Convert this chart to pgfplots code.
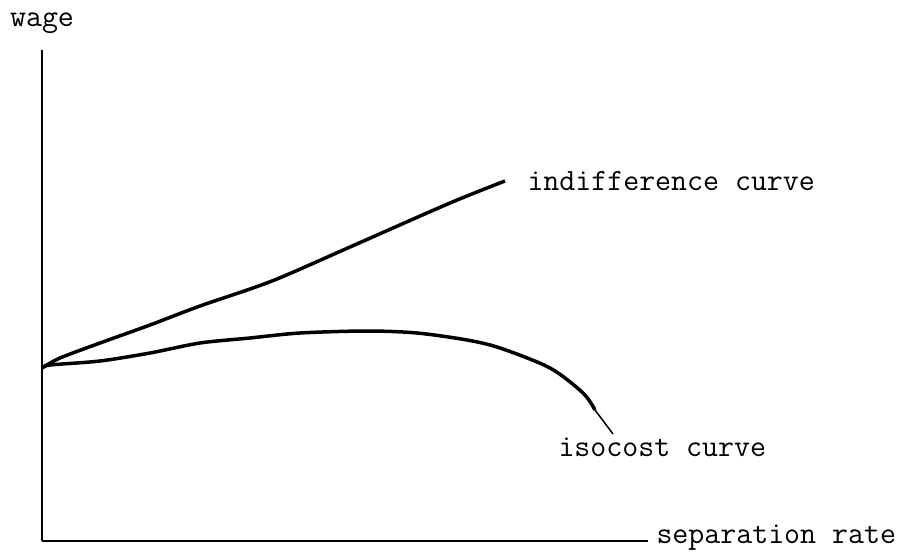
\documentclass[border=0pt]{standalone}
\usepackage{pgfplots}
\pgfplotsset{compat=1.18}
\newcommand{\tw}{\fontsize{12.4}{14}\selectfont\ttfamily}
\begin{document}
\begin{tikzpicture}
\begin{axis}[
  scale only axis,
  width=242.4pt, height=196.4pt,
  xmin=0, xmax=606, ymin=0, ymax=491,
  axis lines=left,
  axis line style={-, line width=0.8pt, black},
  xtick=\empty, ytick=\empty,
  clip=false,
]
\path (axis cs:-42,-15) rectangle (axis cs:858,541);
% indifference curve
\addplot[black, line width=1.4pt, smooth, tension=0.5] coordinates {
(0,173) (18,183) (58,198) (108,216) (158,235) (230,260) (308,294) (408,338) (463,360)
};
% isocost curve
\addplot[black, line width=1.4pt, smooth, tension=0.5] coordinates {
(0,173) (8,176) (58,180) (108,188) (158,198) (208,203) (258,208) (325,210) (375,208) (425,201) (458,193) (508,173) (541,148) (553,131)
};
% leader line
\addplot[black, line width=0.6pt, smooth] coordinates {
(553,131) (562,119) (571,107)
};
\node[font=\tw, anchor=base] at (axis cs:0,514) {wage};
\node[font=\tw, anchor=base west, inner sep=0pt] at (axis cs:485,350) {indifference curve};
\node[font=\tw, anchor=base west, inner sep=0pt] at (axis cs:516,85) {isocost curve};
\node[font=\tw, anchor=base west, inner sep=0pt] at (axis cs:614,-2) {separation rate};
\end{axis}
\end{tikzpicture}
\end{document}
